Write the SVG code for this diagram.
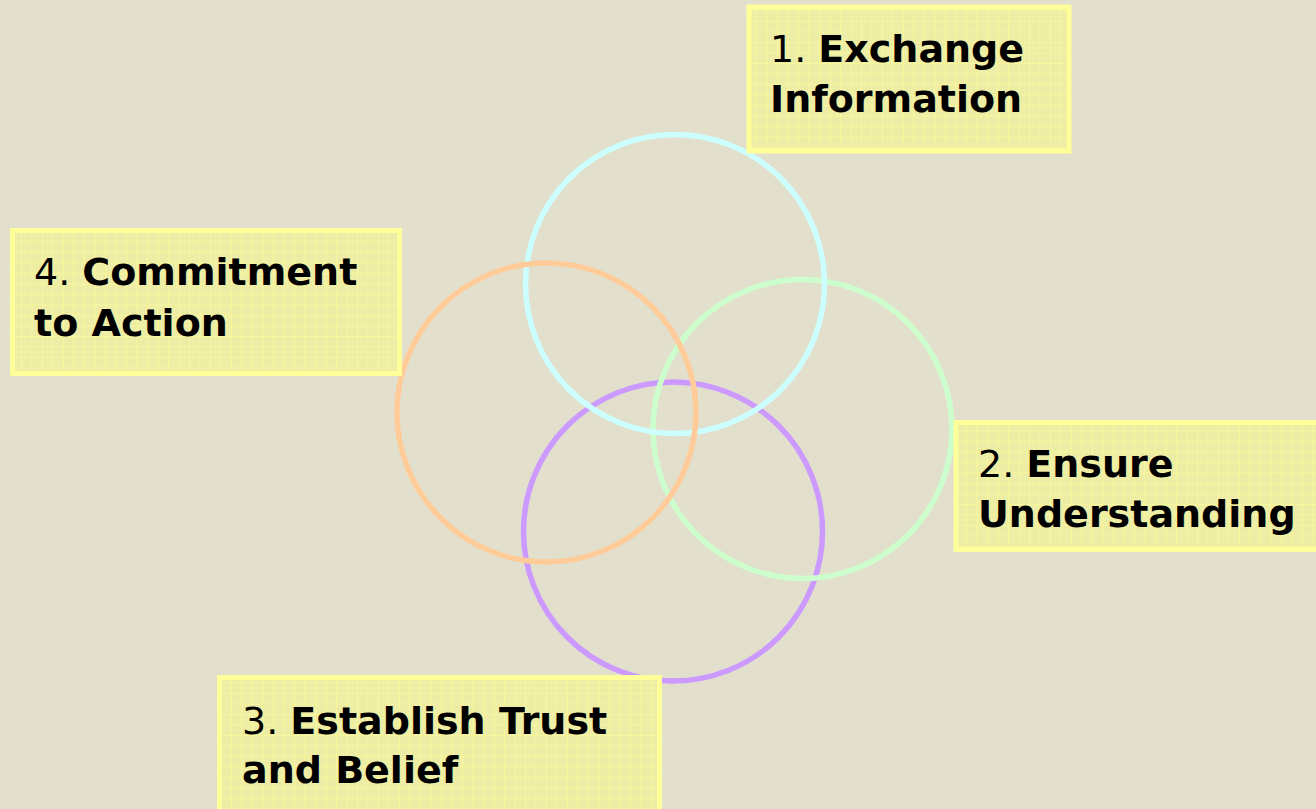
<svg xmlns="http://www.w3.org/2000/svg" width="1316" height="809" viewBox="0 0 1316 809">
  <defs>
    <pattern id="grid" x="0" y="0" width="10.5" height="10.5" patternUnits="userSpaceOnUse">
      <rect width="10.5" height="10.5" fill="#eeeda6"/>
      <path d="M0 0.5H10.5M0.5 0V10.5" stroke="#f7f69a" stroke-width="1" fill="none"/>
    </pattern>
    <style>
      .box { fill: url(#grid); stroke: #ffff99; stroke-width: 5; }
      .lbl { font-family: "DejaVu Sans", Verdana, sans-serif; font-size: 38px; fill: #000; }
      .b { font-weight: bold; }
      .ring { fill: none; stroke-width: 5.5; }
    </style>
  </defs>
  <rect width="1316" height="809" fill="#e2e0cd"/>

  <g id="connectors">
    <circle id="c3" class="ring" cx="673" cy="531.5" r="149.5" stroke="#cc99ff"/>
    <circle id="c2" class="ring" cx="802.5" cy="429" r="149.5" stroke="#ccffcc"/>
    <circle id="c1" class="ring" cx="675" cy="284" r="149.5" stroke="#ccffff"/>
    <circle id="c4" class="ring" cx="546.5" cy="412.5" r="149.5" stroke="#ffcc99"/>
  </g>

  <g id="node1">
    <rect class="box" x="749" y="7" width="320" height="144"/>
    <text class="lbl" x="770" y="62">1. <tspan class="b">Exchange</tspan></text>
    <text class="lbl b" x="770" y="112">Information</text>
  </g>

  <g id="node2">
    <rect class="box" x="956" y="422.5" width="370" height="127"/>
    <text class="lbl" x="978" y="477">2. <tspan class="b">Ensure</tspan></text>
    <text class="lbl b" x="978" y="527">Understanding</text>
  </g>

  <g id="node3">
    <rect class="box" x="219.5" y="677.5" width="440" height="150"/>
    <text class="lbl" x="242" y="734">3. <tspan class="b">Establish Trust</tspan></text>
    <text class="lbl b" x="242" y="783">and Belief</text>
  </g>

  <g id="node4">
    <rect class="box" x="12.5" y="230.5" width="387" height="143"/>
    <text class="lbl" x="34" y="285">4. <tspan class="b">Commitment</tspan></text>
    <text class="lbl b" x="34" y="336">to Action</text>
  </g>
</svg>
